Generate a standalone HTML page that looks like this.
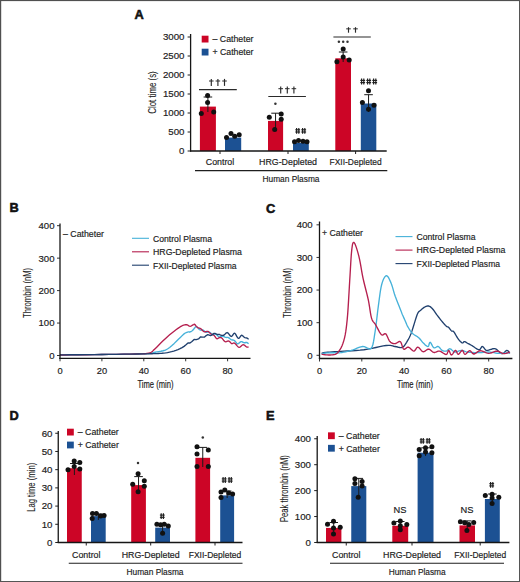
<!DOCTYPE html>
<html><head><meta charset="utf-8"><style>
html,body{margin:0;padding:0;background:#fff;}
.wrap{position:relative;width:520px;height:582px;overflow:hidden;background:#fff;}
svg{position:absolute;left:0;top:0;}
</style></head><body><div class="wrap">
<svg width="520" height="582" viewBox="0 0 520 582" font-family="Liberation Sans, sans-serif">
<rect x="0" y="0" width="520" height="582" fill="#fff"/>
<text x="134.60" y="18.60" font-size="12.8" text-anchor="start" font-weight="bold" fill="#111" stroke="#111" stroke-width="0.55" >A</text>
<rect x="199.90" y="106.60" width="16.00" height="44.40" fill="#cc0526"/>
<line x1="207.90" y1="97.00" x2="207.90" y2="112.00" stroke="#1a1a1a" stroke-width="1.0"/>
<line x1="203.60" y1="97.00" x2="212.20" y2="97.00" stroke="#1a1a1a" stroke-width="1.0"/>
<circle cx="207.60" cy="95.40" r="2.5" fill="#111"/>
<circle cx="207.60" cy="102.50" r="2.5" fill="#111"/>
<circle cx="201.30" cy="113.50" r="2.5" fill="#111"/>
<circle cx="213.70" cy="111.90" r="2.5" fill="#111"/>
<rect x="225.00" y="137.60" width="16.20" height="13.40" fill="#1c5193"/>
<circle cx="226.50" cy="137.60" r="2.5" fill="#111"/>
<circle cx="231.00" cy="133.50" r="2.5" fill="#111"/>
<circle cx="234.70" cy="136.20" r="2.5" fill="#111"/>
<circle cx="239.20" cy="134.80" r="2.5" fill="#111"/>
<rect x="268.00" y="120.90" width="15.10" height="30.10" fill="#cc0526"/>
<line x1="275.55" y1="113.20" x2="275.55" y2="130.00" stroke="#1a1a1a" stroke-width="1.0"/>
<line x1="271.25" y1="113.20" x2="279.85" y2="113.20" stroke="#1a1a1a" stroke-width="1.0"/>
<circle cx="269.30" cy="117.30" r="2.5" fill="#111"/>
<circle cx="281.20" cy="114.10" r="2.5" fill="#111"/>
<circle cx="281.20" cy="119.30" r="2.5" fill="#111"/>
<circle cx="274.70" cy="129.50" r="2.5" fill="#111"/>
<circle cx="275.40" cy="103.80" r="1.25" fill="#333"/>
<rect x="293.00" y="143.00" width="15.80" height="8.00" fill="#1c5193"/>
<circle cx="294.50" cy="141.80" r="2.5" fill="#111"/>
<circle cx="298.50" cy="140.50" r="2.5" fill="#111"/>
<circle cx="303.00" cy="141.20" r="2.5" fill="#111"/>
<circle cx="307.00" cy="141.80" r="2.5" fill="#111"/>
<line x1="296.60" y1="128.00" x2="296.60" y2="133.80" stroke="#1e1e1e" stroke-width="1.15"/>
<line x1="298.80" y1="128.00" x2="298.80" y2="133.80" stroke="#1e1e1e" stroke-width="1.15"/>
<line x1="295.30" y1="129.80" x2="300.10" y2="129.80" stroke="#1e1e1e" stroke-width="1.15"/>
<line x1="295.30" y1="132.00" x2="300.10" y2="132.00" stroke="#1e1e1e" stroke-width="1.15"/>
<line x1="302.60" y1="128.00" x2="302.60" y2="133.80" stroke="#1e1e1e" stroke-width="1.15"/>
<line x1="304.80" y1="128.00" x2="304.80" y2="133.80" stroke="#1e1e1e" stroke-width="1.15"/>
<line x1="301.30" y1="129.80" x2="306.10" y2="129.80" stroke="#1e1e1e" stroke-width="1.15"/>
<line x1="301.30" y1="132.00" x2="306.10" y2="132.00" stroke="#1e1e1e" stroke-width="1.15"/>
<rect x="335.30" y="58.30" width="15.70" height="92.70" fill="#cc0526"/>
<line x1="343.15" y1="52.00" x2="343.15" y2="62.00" stroke="#1a1a1a" stroke-width="1.0"/>
<line x1="338.85" y1="52.00" x2="347.45" y2="52.00" stroke="#1a1a1a" stroke-width="1.0"/>
<circle cx="343.20" cy="49.00" r="2.5" fill="#111"/>
<circle cx="343.20" cy="57.00" r="2.5" fill="#111"/>
<circle cx="336.90" cy="61.80" r="2.5" fill="#111"/>
<circle cx="349.20" cy="60.00" r="2.5" fill="#111"/>
<circle cx="338.90" cy="41.80" r="1.25" fill="#333"/>
<circle cx="343.20" cy="41.80" r="1.25" fill="#333"/>
<circle cx="347.50" cy="41.80" r="1.25" fill="#333"/>
<rect x="360.80" y="103.50" width="15.50" height="47.50" fill="#1c5193"/>
<line x1="368.55" y1="94.70" x2="368.55" y2="112.00" stroke="#1a1a1a" stroke-width="1.0"/>
<line x1="364.25" y1="94.70" x2="372.85" y2="94.70" stroke="#1a1a1a" stroke-width="1.0"/>
<circle cx="368.50" cy="90.80" r="2.5" fill="#111"/>
<circle cx="362.40" cy="102.40" r="2.5" fill="#111"/>
<circle cx="374.00" cy="105.20" r="2.5" fill="#111"/>
<circle cx="368.50" cy="109.30" r="2.5" fill="#111"/>
<line x1="361.60" y1="78.60" x2="361.60" y2="84.40" stroke="#1e1e1e" stroke-width="1.15"/>
<line x1="363.80" y1="78.60" x2="363.80" y2="84.40" stroke="#1e1e1e" stroke-width="1.15"/>
<line x1="360.30" y1="80.40" x2="365.10" y2="80.40" stroke="#1e1e1e" stroke-width="1.15"/>
<line x1="360.30" y1="82.60" x2="365.10" y2="82.60" stroke="#1e1e1e" stroke-width="1.15"/>
<line x1="367.60" y1="78.60" x2="367.60" y2="84.40" stroke="#1e1e1e" stroke-width="1.15"/>
<line x1="369.80" y1="78.60" x2="369.80" y2="84.40" stroke="#1e1e1e" stroke-width="1.15"/>
<line x1="366.30" y1="80.40" x2="371.10" y2="80.40" stroke="#1e1e1e" stroke-width="1.15"/>
<line x1="366.30" y1="82.60" x2="371.10" y2="82.60" stroke="#1e1e1e" stroke-width="1.15"/>
<line x1="373.60" y1="78.60" x2="373.60" y2="84.40" stroke="#1e1e1e" stroke-width="1.15"/>
<line x1="375.80" y1="78.60" x2="375.80" y2="84.40" stroke="#1e1e1e" stroke-width="1.15"/>
<line x1="372.30" y1="80.40" x2="377.10" y2="80.40" stroke="#1e1e1e" stroke-width="1.15"/>
<line x1="372.30" y1="82.60" x2="377.10" y2="82.60" stroke="#1e1e1e" stroke-width="1.15"/>
<line x1="190.60" y1="34.00" x2="190.60" y2="151.60" stroke="#161616" stroke-width="1.3"/>
<line x1="190.00" y1="151.00" x2="386.70" y2="151.00" stroke="#161616" stroke-width="1.3"/>
<line x1="187.60" y1="151.00" x2="190.60" y2="151.00" stroke="#1e1e1e" stroke-width="1.0"/>
<text x="184.50" y="154.40" font-size="9.7" text-anchor="end" font-weight="normal" fill="#1c1c1c" stroke="#1c1c1c" stroke-width="0.18" >0</text>
<line x1="187.60" y1="132.00" x2="190.60" y2="132.00" stroke="#1e1e1e" stroke-width="1.0"/>
<text x="184.50" y="135.40" font-size="9.7" text-anchor="end" font-weight="normal" fill="#1c1c1c" stroke="#1c1c1c" stroke-width="0.18" >500</text>
<line x1="187.60" y1="113.00" x2="190.60" y2="113.00" stroke="#1e1e1e" stroke-width="1.0"/>
<text x="184.50" y="116.40" font-size="9.7" text-anchor="end" font-weight="normal" fill="#1c1c1c" stroke="#1c1c1c" stroke-width="0.18" >1000</text>
<line x1="187.60" y1="94.00" x2="190.60" y2="94.00" stroke="#1e1e1e" stroke-width="1.0"/>
<text x="184.50" y="97.40" font-size="9.7" text-anchor="end" font-weight="normal" fill="#1c1c1c" stroke="#1c1c1c" stroke-width="0.18" >1500</text>
<line x1="187.60" y1="75.00" x2="190.60" y2="75.00" stroke="#1e1e1e" stroke-width="1.0"/>
<text x="184.50" y="78.40" font-size="9.7" text-anchor="end" font-weight="normal" fill="#1c1c1c" stroke="#1c1c1c" stroke-width="0.18" >2000</text>
<line x1="187.60" y1="56.00" x2="190.60" y2="56.00" stroke="#1e1e1e" stroke-width="1.0"/>
<text x="184.50" y="59.40" font-size="9.7" text-anchor="end" font-weight="normal" fill="#1c1c1c" stroke="#1c1c1c" stroke-width="0.18" >2500</text>
<line x1="187.60" y1="37.00" x2="190.60" y2="37.00" stroke="#1e1e1e" stroke-width="1.0"/>
<text x="184.50" y="40.40" font-size="9.7" text-anchor="end" font-weight="normal" fill="#1c1c1c" stroke="#1c1c1c" stroke-width="0.18" >3000</text>
<line x1="220.00" y1="151.00" x2="220.00" y2="154.00" stroke="#1e1e1e" stroke-width="1.0"/>
<text x="220.00" y="165.00" font-size="9.3" text-anchor="middle" font-weight="normal" fill="#1c1c1c" stroke="#1c1c1c" stroke-width="0.18"  textLength="28.5" lengthAdjust="spacingAndGlyphs">Control</text>
<line x1="288.00" y1="151.00" x2="288.00" y2="154.00" stroke="#1e1e1e" stroke-width="1.0"/>
<text x="288.00" y="165.00" font-size="9.3" text-anchor="middle" font-weight="normal" fill="#1c1c1c" stroke="#1c1c1c" stroke-width="0.18"  textLength="58" lengthAdjust="spacingAndGlyphs">HRG-Depleted</text>
<line x1="355.60" y1="151.00" x2="355.60" y2="154.00" stroke="#1e1e1e" stroke-width="1.0"/>
<text x="355.60" y="165.00" font-size="9.3" text-anchor="middle" font-weight="normal" fill="#1c1c1c" stroke="#1c1c1c" stroke-width="0.18"  textLength="52" lengthAdjust="spacingAndGlyphs">FXII-Depleted</text>
<line x1="195.00" y1="170.60" x2="387.30" y2="170.60" stroke="#1e1e1e" stroke-width="1.1"/>
<text x="291.00" y="182.00" font-size="9.3" text-anchor="middle" font-weight="normal" fill="#1c1c1c" stroke="#1c1c1c" stroke-width="0.18"  textLength="57" lengthAdjust="spacingAndGlyphs">Human Plasma</text>
<rect x="201.70" y="35.70" width="6.80" height="6.80" fill="#cc0526"/>
<rect x="201.70" y="48.70" width="6.80" height="6.80" fill="#1c5193"/>
<text x="212.50" y="42.40" font-size="9.4" text-anchor="start" font-weight="normal" fill="#1c1c1c" stroke="#1c1c1c" stroke-width="0.18"  textLength="41" lengthAdjust="spacingAndGlyphs">&#8211; Catheter</text>
<text x="212.50" y="55.40" font-size="9.4" text-anchor="start" font-weight="normal" fill="#1c1c1c" stroke="#1c1c1c" stroke-width="0.18"  textLength="41" lengthAdjust="spacingAndGlyphs">+ Catheter</text>
<text x="0" y="0" font-size="10.6" text-anchor="middle" fill="#1c1c1c" stroke="#1c1c1c" stroke-width="0.1" textLength="42.5" lengthAdjust="spacingAndGlyphs" transform="translate(155.60,92.50) rotate(-90)">Clot time (s)</text>
<line x1="199.00" y1="89.60" x2="236.80" y2="89.60" stroke="#2a2a2a" stroke-width="1.2"/>
<line x1="211.30" y1="78.90" x2="211.30" y2="85.90" stroke="#2a2a2a" stroke-width="1.15"/>
<line x1="209.00" y1="81.00" x2="213.60" y2="81.00" stroke="#2a2a2a" stroke-width="1.0"/>
<line x1="217.90" y1="78.90" x2="217.90" y2="85.90" stroke="#2a2a2a" stroke-width="1.15"/>
<line x1="215.60" y1="81.00" x2="220.20" y2="81.00" stroke="#2a2a2a" stroke-width="1.0"/>
<line x1="224.50" y1="78.90" x2="224.50" y2="85.90" stroke="#2a2a2a" stroke-width="1.15"/>
<line x1="222.20" y1="81.00" x2="226.80" y2="81.00" stroke="#2a2a2a" stroke-width="1.0"/>
<line x1="268.30" y1="96.50" x2="305.90" y2="96.50" stroke="#2a2a2a" stroke-width="1.2"/>
<line x1="280.70" y1="86.60" x2="280.70" y2="93.60" stroke="#2a2a2a" stroke-width="1.15"/>
<line x1="278.40" y1="88.70" x2="283.00" y2="88.70" stroke="#2a2a2a" stroke-width="1.0"/>
<line x1="287.30" y1="86.60" x2="287.30" y2="93.60" stroke="#2a2a2a" stroke-width="1.15"/>
<line x1="285.00" y1="88.70" x2="289.60" y2="88.70" stroke="#2a2a2a" stroke-width="1.0"/>
<line x1="293.90" y1="86.60" x2="293.90" y2="93.60" stroke="#2a2a2a" stroke-width="1.15"/>
<line x1="291.60" y1="88.70" x2="296.20" y2="88.70" stroke="#2a2a2a" stroke-width="1.0"/>
<line x1="333.40" y1="37.00" x2="370.80" y2="37.00" stroke="#2a2a2a" stroke-width="1.2"/>
<line x1="348.50" y1="27.20" x2="348.50" y2="32.70" stroke="#2a2a2a" stroke-width="1.15"/>
<line x1="346.20" y1="28.85" x2="350.80" y2="28.85" stroke="#2a2a2a" stroke-width="1.0"/>
<line x1="355.50" y1="27.20" x2="355.50" y2="32.70" stroke="#2a2a2a" stroke-width="1.15"/>
<line x1="353.20" y1="28.85" x2="357.80" y2="28.85" stroke="#2a2a2a" stroke-width="1.0"/>
<text x="9.50" y="420.30" font-size="12.8" text-anchor="start" font-weight="bold" fill="#111" stroke="#111" stroke-width="0.55" >D</text>
<rect x="67.00" y="468.20" width="14.75" height="74.30" fill="#cc0526"/>
<line x1="74.38" y1="463.50" x2="74.38" y2="475.00" stroke="#1a1a1a" stroke-width="1.0"/>
<line x1="70.08" y1="463.50" x2="78.67" y2="463.50" stroke="#1a1a1a" stroke-width="1.0"/>
<circle cx="74.20" cy="460.90" r="2.5" fill="#111"/>
<circle cx="79.80" cy="462.40" r="2.5" fill="#111"/>
<circle cx="74.20" cy="466.60" r="2.5" fill="#111"/>
<circle cx="68.00" cy="469.70" r="2.5" fill="#111"/>
<circle cx="79.80" cy="468.90" r="2.5" fill="#111"/>
<rect x="91.00" y="516.10" width="14.70" height="26.40" fill="#1c5193"/>
<line x1="98.35" y1="514.00" x2="98.35" y2="520.00" stroke="#1a1a1a" stroke-width="1.0"/>
<line x1="94.05" y1="514.00" x2="102.65" y2="514.00" stroke="#1a1a1a" stroke-width="1.0"/>
<circle cx="92.50" cy="513.50" r="2.5" fill="#111"/>
<circle cx="96.40" cy="513.50" r="2.5" fill="#111"/>
<circle cx="100.60" cy="516.10" r="2.5" fill="#111"/>
<circle cx="104.10" cy="515.40" r="2.5" fill="#111"/>
<circle cx="92.20" cy="518.50" r="2.5" fill="#111"/>
<rect x="131.20" y="485.10" width="14.70" height="57.40" fill="#cc0526"/>
<line x1="138.55" y1="476.60" x2="138.55" y2="491.00" stroke="#1a1a1a" stroke-width="1.0"/>
<line x1="134.25" y1="476.60" x2="142.85" y2="476.60" stroke="#1a1a1a" stroke-width="1.0"/>
<circle cx="138.10" cy="473.70" r="2.5" fill="#111"/>
<circle cx="144.30" cy="480.70" r="2.5" fill="#111"/>
<circle cx="132.70" cy="484.30" r="2.5" fill="#111"/>
<circle cx="144.30" cy="486.30" r="2.5" fill="#111"/>
<circle cx="138.10" cy="491.70" r="2.5" fill="#111"/>
<circle cx="138.00" cy="463.00" r="1.25" fill="#333"/>
<rect x="155.20" y="527.60" width="14.80" height="14.90" fill="#1c5193"/>
<line x1="162.60" y1="524.00" x2="162.60" y2="533.00" stroke="#1a1a1a" stroke-width="1.0"/>
<line x1="158.30" y1="524.00" x2="166.90" y2="524.00" stroke="#1a1a1a" stroke-width="1.0"/>
<circle cx="156.90" cy="524.30" r="2.5" fill="#111"/>
<circle cx="160.60" cy="524.80" r="2.5" fill="#111"/>
<circle cx="164.20" cy="524.30" r="2.5" fill="#111"/>
<circle cx="168.30" cy="526.00" r="2.5" fill="#111"/>
<circle cx="162.60" cy="533.30" r="2.5" fill="#111"/>
<line x1="161.20" y1="513.30" x2="161.20" y2="519.10" stroke="#1e1e1e" stroke-width="1.15"/>
<line x1="163.40" y1="513.30" x2="163.40" y2="519.10" stroke="#1e1e1e" stroke-width="1.15"/>
<line x1="159.90" y1="515.10" x2="164.70" y2="515.10" stroke="#1e1e1e" stroke-width="1.15"/>
<line x1="159.90" y1="517.30" x2="164.70" y2="517.30" stroke="#1e1e1e" stroke-width="1.15"/>
<rect x="195.40" y="457.80" width="14.70" height="84.70" fill="#cc0526"/>
<line x1="202.75" y1="447.40" x2="202.75" y2="467.00" stroke="#1a1a1a" stroke-width="1.0"/>
<line x1="198.45" y1="447.40" x2="207.05" y2="447.40" stroke="#1a1a1a" stroke-width="1.0"/>
<circle cx="197.00" cy="446.70" r="2.5" fill="#111"/>
<circle cx="208.30" cy="450.10" r="2.5" fill="#111"/>
<circle cx="197.00" cy="454.10" r="2.5" fill="#111"/>
<circle cx="197.00" cy="466.50" r="2.5" fill="#111"/>
<circle cx="208.30" cy="466.50" r="2.5" fill="#111"/>
<circle cx="202.80" cy="437.40" r="1.25" fill="#333"/>
<rect x="220.20" y="495.40" width="13.90" height="47.10" fill="#1c5193"/>
<line x1="227.15" y1="491.00" x2="227.15" y2="498.00" stroke="#1a1a1a" stroke-width="1.0"/>
<line x1="222.85" y1="491.00" x2="231.45" y2="491.00" stroke="#1a1a1a" stroke-width="1.0"/>
<circle cx="221.00" cy="491.90" r="2.5" fill="#111"/>
<circle cx="224.80" cy="490.00" r="2.5" fill="#111"/>
<circle cx="228.70" cy="493.10" r="2.5" fill="#111"/>
<circle cx="232.60" cy="493.90" r="2.5" fill="#111"/>
<circle cx="221.00" cy="497.40" r="2.5" fill="#111"/>
<line x1="223.10" y1="477.10" x2="223.10" y2="482.90" stroke="#1e1e1e" stroke-width="1.15"/>
<line x1="225.30" y1="477.10" x2="225.30" y2="482.90" stroke="#1e1e1e" stroke-width="1.15"/>
<line x1="221.80" y1="478.90" x2="226.60" y2="478.90" stroke="#1e1e1e" stroke-width="1.15"/>
<line x1="221.80" y1="481.10" x2="226.60" y2="481.10" stroke="#1e1e1e" stroke-width="1.15"/>
<line x1="229.10" y1="477.10" x2="229.10" y2="482.90" stroke="#1e1e1e" stroke-width="1.15"/>
<line x1="231.30" y1="477.10" x2="231.30" y2="482.90" stroke="#1e1e1e" stroke-width="1.15"/>
<line x1="227.80" y1="478.90" x2="232.60" y2="478.90" stroke="#1e1e1e" stroke-width="1.15"/>
<line x1="227.80" y1="481.10" x2="232.60" y2="481.10" stroke="#1e1e1e" stroke-width="1.15"/>
<line x1="58.25" y1="431.00" x2="58.25" y2="543.10" stroke="#161616" stroke-width="1.3"/>
<line x1="57.65" y1="542.50" x2="242.50" y2="542.50" stroke="#161616" stroke-width="1.3"/>
<line x1="55.25" y1="542.50" x2="58.25" y2="542.50" stroke="#1e1e1e" stroke-width="1.0"/>
<text x="52.50" y="545.90" font-size="9.7" text-anchor="end" font-weight="normal" fill="#1c1c1c" stroke="#1c1c1c" stroke-width="0.18" >0</text>
<line x1="55.25" y1="524.29" x2="58.25" y2="524.29" stroke="#1e1e1e" stroke-width="1.0"/>
<text x="52.50" y="527.69" font-size="9.7" text-anchor="end" font-weight="normal" fill="#1c1c1c" stroke="#1c1c1c" stroke-width="0.18" >10</text>
<line x1="55.25" y1="506.08" x2="58.25" y2="506.08" stroke="#1e1e1e" stroke-width="1.0"/>
<text x="52.50" y="509.48" font-size="9.7" text-anchor="end" font-weight="normal" fill="#1c1c1c" stroke="#1c1c1c" stroke-width="0.18" >20</text>
<line x1="55.25" y1="487.88" x2="58.25" y2="487.88" stroke="#1e1e1e" stroke-width="1.0"/>
<text x="52.50" y="491.27" font-size="9.7" text-anchor="end" font-weight="normal" fill="#1c1c1c" stroke="#1c1c1c" stroke-width="0.18" >30</text>
<line x1="55.25" y1="469.67" x2="58.25" y2="469.67" stroke="#1e1e1e" stroke-width="1.0"/>
<text x="52.50" y="473.07" font-size="9.7" text-anchor="end" font-weight="normal" fill="#1c1c1c" stroke="#1c1c1c" stroke-width="0.18" >40</text>
<line x1="55.25" y1="451.46" x2="58.25" y2="451.46" stroke="#1e1e1e" stroke-width="1.0"/>
<text x="52.50" y="454.86" font-size="9.7" text-anchor="end" font-weight="normal" fill="#1c1c1c" stroke="#1c1c1c" stroke-width="0.18" >50</text>
<line x1="55.25" y1="433.25" x2="58.25" y2="433.25" stroke="#1e1e1e" stroke-width="1.0"/>
<text x="52.50" y="436.65" font-size="9.7" text-anchor="end" font-weight="normal" fill="#1c1c1c" stroke="#1c1c1c" stroke-width="0.18" >60</text>
<line x1="86.25" y1="542.50" x2="86.25" y2="545.50" stroke="#1e1e1e" stroke-width="1.0"/>
<text x="86.25" y="557.70" font-size="9.3" text-anchor="middle" font-weight="normal" fill="#1c1c1c" stroke="#1c1c1c" stroke-width="0.18"  textLength="28.5" lengthAdjust="spacingAndGlyphs">Control</text>
<line x1="150.70" y1="542.50" x2="150.70" y2="545.50" stroke="#1e1e1e" stroke-width="1.0"/>
<text x="150.70" y="557.70" font-size="9.3" text-anchor="middle" font-weight="normal" fill="#1c1c1c" stroke="#1c1c1c" stroke-width="0.18"  textLength="58" lengthAdjust="spacingAndGlyphs">HRG-Depleted</text>
<line x1="215.00" y1="542.50" x2="215.00" y2="545.50" stroke="#1e1e1e" stroke-width="1.0"/>
<text x="215.00" y="557.70" font-size="9.3" text-anchor="middle" font-weight="normal" fill="#1c1c1c" stroke="#1c1c1c" stroke-width="0.18"  textLength="52.5" lengthAdjust="spacingAndGlyphs">FXII-Depleted</text>
<line x1="68.75" y1="563.20" x2="242.50" y2="563.20" stroke="#1e1e1e" stroke-width="1.1"/>
<text x="155.00" y="574.50" font-size="9.3" text-anchor="middle" font-weight="normal" fill="#1c1c1c" stroke="#1c1c1c" stroke-width="0.18"  textLength="57" lengthAdjust="spacingAndGlyphs">Human Plasma</text>
<rect x="67.00" y="428.70" width="6.80" height="6.80" fill="#cc0526"/>
<rect x="67.00" y="441.60" width="6.80" height="6.80" fill="#1c5193"/>
<text x="77.80" y="435.40" font-size="9.4" text-anchor="start" font-weight="normal" fill="#1c1c1c" stroke="#1c1c1c" stroke-width="0.18"  textLength="41" lengthAdjust="spacingAndGlyphs">&#8211; Catheter</text>
<text x="77.80" y="448.30" font-size="9.4" text-anchor="start" font-weight="normal" fill="#1c1c1c" stroke="#1c1c1c" stroke-width="0.18"  textLength="41" lengthAdjust="spacingAndGlyphs">+ Catheter</text>
<text x="0" y="0" font-size="10.6" text-anchor="middle" fill="#1c1c1c" stroke="#1c1c1c" stroke-width="0.1" textLength="49" lengthAdjust="spacingAndGlyphs" transform="translate(34.60,487.30) rotate(-90)">Lag time (min)</text>
<text x="266.00" y="420.20" font-size="12.8" text-anchor="start" font-weight="bold" fill="#111" stroke="#111" stroke-width="0.55" >E</text>
<rect x="326.00" y="527.90" width="15.40" height="14.60" fill="#cc0526"/>
<line x1="333.70" y1="522.50" x2="333.70" y2="534.00" stroke="#1a1a1a" stroke-width="1.0"/>
<line x1="329.40" y1="522.50" x2="338.00" y2="522.50" stroke="#1a1a1a" stroke-width="1.0"/>
<circle cx="327.50" cy="524.30" r="2.5" fill="#111"/>
<circle cx="333.50" cy="521.30" r="2.5" fill="#111"/>
<circle cx="333.50" cy="527.90" r="2.5" fill="#111"/>
<circle cx="340.20" cy="527.30" r="2.5" fill="#111"/>
<circle cx="333.50" cy="534.10" r="2.5" fill="#111"/>
<rect x="351.25" y="486.10" width="15.05" height="56.40" fill="#1c5193"/>
<line x1="358.77" y1="478.40" x2="358.77" y2="497.00" stroke="#1a1a1a" stroke-width="1.0"/>
<line x1="354.47" y1="478.40" x2="363.07" y2="478.40" stroke="#1a1a1a" stroke-width="1.0"/>
<circle cx="354.90" cy="478.80" r="2.5" fill="#111"/>
<circle cx="354.90" cy="483.40" r="2.5" fill="#111"/>
<circle cx="362.10" cy="481.60" r="2.5" fill="#111"/>
<circle cx="362.10" cy="486.10" r="2.5" fill="#111"/>
<circle cx="358.20" cy="497.20" r="2.5" fill="#111"/>
<rect x="392.30" y="525.80" width="15.90" height="16.70" fill="#cc0526"/>
<line x1="400.25" y1="521.50" x2="400.25" y2="530.00" stroke="#1a1a1a" stroke-width="1.0"/>
<line x1="395.95" y1="521.50" x2="404.55" y2="521.50" stroke="#1a1a1a" stroke-width="1.0"/>
<circle cx="393.90" cy="522.90" r="2.5" fill="#111"/>
<circle cx="400.30" cy="520.90" r="2.5" fill="#111"/>
<circle cx="406.80" cy="524.50" r="2.5" fill="#111"/>
<circle cx="400.30" cy="525.80" r="2.5" fill="#111"/>
<circle cx="400.30" cy="529.80" r="2.5" fill="#111"/>
<text x="399.90" y="513.30" font-size="9.3" text-anchor="middle" font-weight="normal" fill="#1c1c1c" stroke="#1c1c1c" stroke-width="0.18" >NS</text>
<rect x="417.60" y="452.70" width="15.90" height="89.80" fill="#1c5193"/>
<line x1="425.55" y1="447.80" x2="425.55" y2="456.00" stroke="#1a1a1a" stroke-width="1.0"/>
<line x1="421.25" y1="447.80" x2="429.85" y2="447.80" stroke="#1a1a1a" stroke-width="1.0"/>
<circle cx="419.20" cy="449.40" r="2.5" fill="#111"/>
<circle cx="425.50" cy="447.80" r="2.5" fill="#111"/>
<circle cx="431.90" cy="446.80" r="2.5" fill="#111"/>
<circle cx="431.90" cy="452.70" r="2.5" fill="#111"/>
<circle cx="425.50" cy="452.10" r="2.5" fill="#111"/>
<circle cx="419.20" cy="455.70" r="2.5" fill="#111"/>
<line x1="421.10" y1="438.00" x2="421.10" y2="443.80" stroke="#1e1e1e" stroke-width="1.15"/>
<line x1="423.30" y1="438.00" x2="423.30" y2="443.80" stroke="#1e1e1e" stroke-width="1.15"/>
<line x1="419.80" y1="439.80" x2="424.60" y2="439.80" stroke="#1e1e1e" stroke-width="1.15"/>
<line x1="419.80" y1="442.00" x2="424.60" y2="442.00" stroke="#1e1e1e" stroke-width="1.15"/>
<line x1="427.10" y1="438.00" x2="427.10" y2="443.80" stroke="#1e1e1e" stroke-width="1.15"/>
<line x1="429.30" y1="438.00" x2="429.30" y2="443.80" stroke="#1e1e1e" stroke-width="1.15"/>
<line x1="425.80" y1="439.80" x2="430.60" y2="439.80" stroke="#1e1e1e" stroke-width="1.15"/>
<line x1="425.80" y1="442.00" x2="430.60" y2="442.00" stroke="#1e1e1e" stroke-width="1.15"/>
<rect x="459.50" y="525.40" width="15.50" height="17.10" fill="#cc0526"/>
<line x1="467.25" y1="520.90" x2="467.25" y2="531.00" stroke="#1a1a1a" stroke-width="1.0"/>
<line x1="462.95" y1="520.90" x2="471.55" y2="520.90" stroke="#1a1a1a" stroke-width="1.0"/>
<circle cx="460.40" cy="521.80" r="2.5" fill="#111"/>
<circle cx="464.70" cy="522.80" r="2.5" fill="#111"/>
<circle cx="468.90" cy="524.40" r="2.5" fill="#111"/>
<circle cx="473.70" cy="522.60" r="2.5" fill="#111"/>
<circle cx="466.90" cy="530.60" r="2.5" fill="#111"/>
<text x="466.90" y="513.30" font-size="9.3" text-anchor="middle" font-weight="normal" fill="#1c1c1c" stroke="#1c1c1c" stroke-width="0.18" >NS</text>
<rect x="484.90" y="499.00" width="14.90" height="43.50" fill="#1c5193"/>
<line x1="492.35" y1="494.00" x2="492.35" y2="503.00" stroke="#1a1a1a" stroke-width="1.0"/>
<line x1="488.05" y1="494.00" x2="496.65" y2="494.00" stroke="#1a1a1a" stroke-width="1.0"/>
<circle cx="485.30" cy="495.50" r="2.5" fill="#111"/>
<circle cx="492.10" cy="494.20" r="2.5" fill="#111"/>
<circle cx="498.80" cy="497.30" r="2.5" fill="#111"/>
<circle cx="492.10" cy="498.10" r="2.5" fill="#111"/>
<circle cx="492.10" cy="503.50" r="2.5" fill="#111"/>
<line x1="490.60" y1="481.90" x2="490.60" y2="487.70" stroke="#1e1e1e" stroke-width="1.15"/>
<line x1="492.80" y1="481.90" x2="492.80" y2="487.70" stroke="#1e1e1e" stroke-width="1.15"/>
<line x1="489.30" y1="483.70" x2="494.10" y2="483.70" stroke="#1e1e1e" stroke-width="1.15"/>
<line x1="489.30" y1="485.90" x2="494.10" y2="485.90" stroke="#1e1e1e" stroke-width="1.15"/>
<line x1="317.20" y1="436.00" x2="317.20" y2="543.10" stroke="#161616" stroke-width="1.3"/>
<line x1="316.60" y1="542.50" x2="509.40" y2="542.50" stroke="#161616" stroke-width="1.3"/>
<line x1="314.20" y1="542.50" x2="317.20" y2="542.50" stroke="#1e1e1e" stroke-width="1.0"/>
<text x="311.00" y="545.90" font-size="9.7" text-anchor="end" font-weight="normal" fill="#1c1c1c" stroke="#1c1c1c" stroke-width="0.18" >0</text>
<line x1="314.20" y1="516.56" x2="317.20" y2="516.56" stroke="#1e1e1e" stroke-width="1.0"/>
<text x="311.00" y="519.96" font-size="9.7" text-anchor="end" font-weight="normal" fill="#1c1c1c" stroke="#1c1c1c" stroke-width="0.18" >100</text>
<line x1="314.20" y1="490.62" x2="317.20" y2="490.62" stroke="#1e1e1e" stroke-width="1.0"/>
<text x="311.00" y="494.02" font-size="9.7" text-anchor="end" font-weight="normal" fill="#1c1c1c" stroke="#1c1c1c" stroke-width="0.18" >200</text>
<line x1="314.20" y1="464.69" x2="317.20" y2="464.69" stroke="#1e1e1e" stroke-width="1.0"/>
<text x="311.00" y="468.09" font-size="9.7" text-anchor="end" font-weight="normal" fill="#1c1c1c" stroke="#1c1c1c" stroke-width="0.18" >300</text>
<line x1="314.20" y1="438.75" x2="317.20" y2="438.75" stroke="#1e1e1e" stroke-width="1.0"/>
<text x="311.00" y="442.15" font-size="9.7" text-anchor="end" font-weight="normal" fill="#1c1c1c" stroke="#1c1c1c" stroke-width="0.18" >400</text>
<line x1="346.25" y1="542.50" x2="346.25" y2="545.50" stroke="#1e1e1e" stroke-width="1.0"/>
<text x="346.25" y="557.70" font-size="9.3" text-anchor="middle" font-weight="normal" fill="#1c1c1c" stroke="#1c1c1c" stroke-width="0.18"  textLength="28.5" lengthAdjust="spacingAndGlyphs">Control</text>
<line x1="412.00" y1="542.50" x2="412.00" y2="545.50" stroke="#1e1e1e" stroke-width="1.0"/>
<text x="412.00" y="557.70" font-size="9.3" text-anchor="middle" font-weight="normal" fill="#1c1c1c" stroke="#1c1c1c" stroke-width="0.18"  textLength="58" lengthAdjust="spacingAndGlyphs">HRG-Depleted</text>
<line x1="480.20" y1="542.50" x2="480.20" y2="545.50" stroke="#1e1e1e" stroke-width="1.0"/>
<text x="480.20" y="557.70" font-size="9.3" text-anchor="middle" font-weight="normal" fill="#1c1c1c" stroke="#1c1c1c" stroke-width="0.18"  textLength="52" lengthAdjust="spacingAndGlyphs">FXII-Depleted</text>
<line x1="330.00" y1="563.30" x2="504.00" y2="563.30" stroke="#1e1e1e" stroke-width="1.1"/>
<text x="417.20" y="574.50" font-size="9.3" text-anchor="middle" font-weight="normal" fill="#1c1c1c" stroke="#1c1c1c" stroke-width="0.18"  textLength="57" lengthAdjust="spacingAndGlyphs">Human Plasma</text>
<rect x="328.00" y="432.35" width="6.80" height="6.80" fill="#cc0526"/>
<rect x="328.00" y="444.85" width="6.80" height="6.80" fill="#1c5193"/>
<text x="338.80" y="439.05" font-size="9.4" text-anchor="start" font-weight="normal" fill="#1c1c1c" stroke="#1c1c1c" stroke-width="0.18"  textLength="41" lengthAdjust="spacingAndGlyphs">&#8211; Catheter</text>
<text x="338.80" y="451.55" font-size="9.4" text-anchor="start" font-weight="normal" fill="#1c1c1c" stroke="#1c1c1c" stroke-width="0.18"  textLength="41" lengthAdjust="spacingAndGlyphs">+ Catheter</text>
<text x="0" y="0" font-size="10.2" text-anchor="middle" fill="#1c1c1c" stroke="#1c1c1c" stroke-width="0.1" textLength="67" lengthAdjust="spacingAndGlyphs" transform="translate(288.40,488.60) rotate(-90)">Peak thrombin (nM)</text>
<text x="9.50" y="212.20" font-size="12.8" text-anchor="start" font-weight="bold" fill="#111" stroke="#111" stroke-width="0.55" >B</text>
<path d="M60.00,355.01 L64.61,354.96 L71.02,354.89 L78.59,354.81 L86.69,354.72 L94.67,354.62 L101.90,354.53 L108.77,354.42 L115.87,354.31 L122.85,354.19 L129.37,354.08 L135.07,353.97 L139.61,353.88 L142.72,353.82 L144.62,353.78 L145.71,353.76 L146.38,353.72 L147.01,353.66 L147.99,353.55 L149.19,353.42 L150.26,353.26 L151.30,353.09 L152.40,352.87 L153.64,352.60 L155.11,352.25 L156.87,351.92 L158.84,351.62 L160.95,351.26 L163.14,350.76 L165.34,350.04 L167.47,349.01 L169.65,347.50 L171.94,345.56 L174.24,343.39 L176.44,341.21 L178.41,339.23 L180.04,337.65 L181.28,336.51 L182.19,335.62 L182.87,334.93 L183.44,334.38 L184.00,333.90 L184.65,333.43 L185.40,332.99 L186.16,332.63 L186.90,332.34 L187.62,332.11 L188.27,331.94 L188.84,331.81 L189.29,331.81 L189.62,331.97 L189.89,332.18 L190.16,331.72 L190.49,331.71 L190.94,331.56 L191.51,331.23 L192.18,330.75 L192.90,330.12 L193.65,329.25 L194.40,328.22 L195.13,327.30 L195.84,326.76 L196.56,326.69 L197.29,327.12 L198.00,327.91 L198.68,328.78 L199.32,329.44 L199.88,329.81 L200.36,330.01 L200.82,330.09 L201.30,330.08 L201.83,330.01 L202.46,329.97 L203.22,330.15 L204.07,330.72 L204.97,331.56 L205.91,332.22 L206.82,332.38 L207.70,332.17 L208.54,331.95 L209.38,332.05 L210.21,332.58 L211.02,333.35 L211.79,334.04 L212.52,334.41 L213.16,334.44 L213.73,334.27 L214.27,334.05 L214.81,333.88 L215.40,333.87 L216.08,334.16 L216.88,334.88 L217.78,335.87 L218.72,336.62 L219.66,336.81 L220.54,336.63 L221.32,336.46 L221.96,336.39 L222.52,336.40 L223.02,336.44 L223.49,336.53 L223.96,336.68 L224.46,336.90 L224.97,337.15 L225.47,337.33 L225.96,337.43 L226.47,337.46 L227.02,337.44 L227.60,337.43 L228.22,337.53 L228.86,337.84 L229.52,338.34 L230.23,338.97 L230.98,339.53 L231.79,339.85 L232.68,339.97 L233.65,340.12 L234.67,340.75 L235.70,341.95 L236.71,343.20 L237.66,343.82 L238.53,343.60 L239.36,342.88 L240.17,342.10 L240.98,341.62 L241.81,341.65 L242.68,342.11 L243.68,342.67 L244.79,342.75 L245.93,342.47 L247.00,342.54 L247.90,343.15 L248.55,343.79" fill="none" stroke="#45b1d9" stroke-width="1.35" stroke-linejoin="round"/>
<path d="M60.00,355.01 L64.61,354.96 L71.02,354.89 L78.59,354.81 L86.69,354.72 L94.67,354.62 L101.90,354.53 L108.79,354.42 L115.94,354.31 L122.98,354.19 L129.52,354.08 L135.19,353.97 L139.61,353.88 L142.49,353.82 L144.07,353.78 L144.78,353.76 L145.04,353.72 L145.27,353.66 L145.90,353.55 L146.84,353.42 L147.76,353.28 L148.66,353.11 L149.52,352.89 L150.34,352.61 L151.13,352.25 L151.77,351.89 L152.24,351.55 L152.68,351.14 L153.21,350.58 L153.98,349.79 L155.11,348.69 L156.69,347.15 L158.60,345.22 L160.76,343.07 L163.03,340.83 L165.30,338.65 L167.47,336.68 L169.63,334.84 L171.88,332.99 L174.14,331.20 L176.31,329.55 L178.31,328.11 L180.04,326.94 L181.48,326.09 L182.70,325.49 L183.74,325.10 L184.65,324.86 L185.50,324.74 L186.33,324.67 L187.10,324.76 L187.75,325.05 L188.33,325.44 L188.89,325.85 L189.46,326.17 L190.10,326.30 L190.78,326.14 L191.48,325.78 L192.19,325.32 L192.93,324.90 L193.70,324.64 L194.50,324.11 L195.38,325.07 L196.34,326.35 L197.33,327.38 L198.29,327.90 L199.18,328.09 L199.95,328.26 L200.52,328.51 L200.93,328.82 L201.27,329.13 L201.61,329.47 L202.05,329.94 L202.67,330.64 L203.51,331.46 L204.53,331.94 L205.64,331.78 L206.77,331.35 L207.83,331.34 L208.75,331.89 L209.51,332.63 L210.17,333.30 L210.77,333.80 L211.34,334.15 L211.91,334.38 L212.52,334.53 L213.15,334.76 L213.80,335.19 L214.44,335.83 L215.08,336.65 L215.69,337.54 L216.29,338.31 L216.83,338.72 L217.33,338.75 L217.82,338.53 L218.31,338.19 L218.84,337.82 L219.43,337.57 L220.10,337.48 L220.83,337.56 L221.59,337.91 L222.36,338.62 L223.12,339.59 L223.83,340.55 L224.49,341.26 L225.13,341.69 L225.75,341.81 L226.37,341.67 L226.98,341.39 L227.60,341.10 L228.24,340.97 L228.90,341.09 L229.56,341.50 L230.21,342.15 L230.82,342.86 L231.37,343.44 L231.85,343.71 L232.26,343.69 L232.63,343.51 L233.00,343.27 L233.41,343.06 L233.89,342.97 L234.43,343.09 L235.00,343.46 L235.61,344.02 L236.26,344.75 L236.94,345.60 L237.66,346.42 L238.41,347.02 L239.21,347.29 L240.04,347.08 L240.90,346.40 L241.78,345.49 L242.68,344.81 L243.68,344.73 L244.79,345.42 L245.93,346.48 L247.00,347.12 L247.90,347.14 L248.55,346.91" fill="none" stroke="#b51f4e" stroke-width="1.35" stroke-linejoin="round"/>
<path d="M60.00,354.85 L64.56,354.82 L70.86,354.78 L78.33,354.73 L86.38,354.67 L94.43,354.60 L101.90,354.53 L109.22,354.43 L116.95,354.32 L124.68,354.20 L132.01,354.08 L138.51,353.97 L143.80,353.88 L147.61,353.81 L150.22,353.77 L152.01,353.74 L153.37,353.70 L154.70,353.64 L156.37,353.55 L158.29,353.46 L160.13,353.38 L161.92,353.29 L163.72,353.14 L165.56,352.92 L167.47,352.58 L169.49,352.14 L171.58,351.63 L173.71,351.04 L175.85,350.36 L177.97,349.57 L180.04,348.69 L182.06,347.62 L184.05,346.37 L186.01,344.78 L187.98,342.97 L189.97,342.97 L191.99,341.53 L194.09,339.42 L196.28,339.68 L198.49,338.89 L200.65,336.86 L202.70,337.14 L204.56,337.10 L206.23,335.54 L207.78,334.66 L209.20,335.15 L210.53,335.63 L211.77,335.15 L212.94,334.10 L214.01,333.39 L214.99,333.39 L215.88,333.83 L216.70,334.28 L217.46,334.49 L218.17,334.43 L218.80,334.34 L219.31,334.43 L219.76,334.65 L220.21,334.90 L220.71,335.12 L221.32,335.28 L222.04,335.39 L222.85,335.45 L223.71,335.26 L224.60,334.63 L225.48,333.66 L226.34,332.80 L227.20,332.52 L228.07,332.99 L228.95,334.08 L229.80,335.33 L230.62,336.22 L231.37,336.45 L232.04,336.04 L232.65,335.26 L233.22,334.39 L233.77,333.66 L234.33,333.27 L234.93,333.41 L235.57,334.18 L236.24,335.39 L236.91,336.69 L237.59,337.74 L238.26,338.31 L238.91,338.29 L239.53,337.73 L240.11,336.90 L240.68,336.05 L241.28,335.43 L241.94,335.26 L242.68,335.71 L243.61,336.70 L244.70,337.56 L245.85,337.81 L246.95,337.98 L247.89,338.59 L248.55,339.35" fill="none" stroke="#20406e" stroke-width="1.35" stroke-linejoin="round"/>
<line x1="60.00" y1="223.50" x2="60.00" y2="358.90" stroke="#161616" stroke-width="1.3"/>
<line x1="59.40" y1="358.30" x2="250.50" y2="358.30" stroke="#161616" stroke-width="1.3"/>
<line x1="57.00" y1="355.50" x2="60.00" y2="355.50" stroke="#1e1e1e" stroke-width="0.9"/>
<text x="54.50" y="358.90" font-size="9.6" text-anchor="end" font-weight="normal" fill="#1c1c1c" stroke="#1c1c1c" stroke-width="0.18" >0</text>
<line x1="57.00" y1="323.05" x2="60.00" y2="323.05" stroke="#1e1e1e" stroke-width="0.9"/>
<text x="54.50" y="326.45" font-size="9.6" text-anchor="end" font-weight="normal" fill="#1c1c1c" stroke="#1c1c1c" stroke-width="0.18" >100</text>
<line x1="57.00" y1="290.60" x2="60.00" y2="290.60" stroke="#1e1e1e" stroke-width="0.9"/>
<text x="54.50" y="294.00" font-size="9.6" text-anchor="end" font-weight="normal" fill="#1c1c1c" stroke="#1c1c1c" stroke-width="0.18" >200</text>
<line x1="57.00" y1="258.15" x2="60.00" y2="258.15" stroke="#1e1e1e" stroke-width="0.9"/>
<text x="54.50" y="261.55" font-size="9.6" text-anchor="end" font-weight="normal" fill="#1c1c1c" stroke="#1c1c1c" stroke-width="0.18" >300</text>
<line x1="57.00" y1="225.70" x2="60.00" y2="225.70" stroke="#1e1e1e" stroke-width="0.9"/>
<text x="54.50" y="229.10" font-size="9.6" text-anchor="end" font-weight="normal" fill="#1c1c1c" stroke="#1c1c1c" stroke-width="0.18" >400</text>
<line x1="60.00" y1="358.30" x2="60.00" y2="361.30" stroke="#1e1e1e" stroke-width="0.9"/>
<text x="60.00" y="373.80" font-size="9.3" text-anchor="middle" font-weight="normal" fill="#1c1c1c" stroke="#1c1c1c" stroke-width="0.18" >0</text>
<line x1="101.90" y1="358.30" x2="101.90" y2="361.30" stroke="#1e1e1e" stroke-width="0.9"/>
<text x="101.90" y="373.80" font-size="9.3" text-anchor="middle" font-weight="normal" fill="#1c1c1c" stroke="#1c1c1c" stroke-width="0.18" >20</text>
<line x1="143.80" y1="358.30" x2="143.80" y2="361.30" stroke="#1e1e1e" stroke-width="0.9"/>
<text x="143.80" y="373.80" font-size="9.3" text-anchor="middle" font-weight="normal" fill="#1c1c1c" stroke="#1c1c1c" stroke-width="0.18" >40</text>
<line x1="185.70" y1="358.30" x2="185.70" y2="361.30" stroke="#1e1e1e" stroke-width="0.9"/>
<text x="185.70" y="373.80" font-size="9.3" text-anchor="middle" font-weight="normal" fill="#1c1c1c" stroke="#1c1c1c" stroke-width="0.18" >60</text>
<line x1="227.60" y1="358.30" x2="227.60" y2="361.30" stroke="#1e1e1e" stroke-width="0.9"/>
<text x="227.60" y="373.80" font-size="9.3" text-anchor="middle" font-weight="normal" fill="#1c1c1c" stroke="#1c1c1c" stroke-width="0.18" >80</text>
<text x="0" y="0" font-size="10.6" text-anchor="middle" fill="#1c1c1c" stroke="#1c1c1c" stroke-width="0.1" textLength="50" lengthAdjust="spacingAndGlyphs" transform="translate(31.00,292.90) rotate(-90)">Thrombin (nM)</text>
<text x="155.50" y="388.00" font-size="10.4" text-anchor="middle" font-weight="normal" fill="#1c1c1c" stroke="#1c1c1c" stroke-width="0.18" textLength="36" lengthAdjust="spacingAndGlyphs">Time (min)</text>
<text x="63.00" y="237.20" font-size="9.4" text-anchor="start" font-weight="normal" fill="#1c1c1c" stroke="#1c1c1c" stroke-width="0.18"  textLength="41" lengthAdjust="spacingAndGlyphs">&#8211; Catheter</text>
<line x1="132.00" y1="238.30" x2="149.00" y2="238.30" stroke="#45b1d9" stroke-width="1.1"/>
<text x="153.00" y="241.60" font-size="9.3" text-anchor="start" font-weight="normal" fill="#1c1c1c" stroke="#1c1c1c" stroke-width="0.18"  textLength="59" lengthAdjust="spacingAndGlyphs">Control Plasma</text>
<line x1="132.00" y1="251.80" x2="149.00" y2="251.80" stroke="#b51f4e" stroke-width="1.1"/>
<text x="153.00" y="255.10" font-size="9.3" text-anchor="start" font-weight="normal" fill="#1c1c1c" stroke="#1c1c1c" stroke-width="0.18"  textLength="89" lengthAdjust="spacingAndGlyphs">HRG-Depleted Plasma</text>
<line x1="132.00" y1="265.20" x2="149.00" y2="265.20" stroke="#20406e" stroke-width="1.1"/>
<text x="153.00" y="268.50" font-size="9.3" text-anchor="start" font-weight="normal" fill="#1c1c1c" stroke="#1c1c1c" stroke-width="0.18"  textLength="83.5" lengthAdjust="spacingAndGlyphs">FXII-Depleted Plasma</text>
<text x="266.00" y="213.00" font-size="12.8" text-anchor="start" font-weight="bold" fill="#111" stroke="#111" stroke-width="0.55" >C</text>
<path d="M321.62,353.34 L321.95,353.24 L322.32,353.09 L322.80,352.91 L323.50,352.73 L324.48,352.54 L325.85,352.36 L327.60,352.21 L329.68,352.06 L332.06,351.92 L334.70,351.76 L337.57,351.59 L340.65,351.39 L344.05,351.18 L347.82,350.99 L351.82,350.77 L355.93,350.52 L360.00,350.19 L363.92,349.75 L367.83,349.14 L371.89,348.34 L375.92,347.47 L379.75,346.64 L383.20,345.95 L386.12,345.51 L388.40,345.38 L390.15,345.45 L391.53,345.68 L392.69,345.97 L393.80,346.27 L395.01,346.49 L396.29,346.71 L397.52,347.00 L398.69,347.29 L399.80,347.51 L400.83,347.59 L401.77,347.47 L402.59,347.17 L403.27,346.76 L403.88,346.21 L404.46,345.50 L405.08,344.62 L405.79,343.56 L406.59,342.33 L407.43,340.97 L408.30,339.44 L409.21,337.70 L410.13,335.71 L411.08,333.44 L412.08,330.63 L413.16,327.25 L414.27,323.62 L415.34,320.07 L416.34,316.93 L417.21,314.53 L417.93,312.96 L418.51,311.99 L419.02,311.43 L419.51,311.08 L420.02,310.76 L420.60,310.28 L421.26,309.66 L421.95,309.04 L422.67,308.45 L423.40,307.90 L424.12,307.42 L424.83,307.02 L425.51,306.68 L426.19,306.38 L426.86,306.15 L427.53,306.00 L428.19,305.95 L428.85,306.04 L429.49,306.28 L430.12,306.64 L430.75,307.10 L431.38,307.66 L432.01,308.29 L432.65,308.98 L433.31,309.75 L433.97,310.63 L434.64,311.59 L435.31,312.58 L435.99,313.57 L436.67,314.53 L437.35,315.44 L438.03,316.36 L438.71,317.27 L439.40,318.19 L440.13,319.12 L440.90,320.07 L441.76,321.10 L442.69,322.23 L443.66,323.36 L444.61,324.44 L445.47,325.38 L446.19,326.11 L446.74,326.55 L447.16,326.76 L447.50,326.83 L447.80,326.87 L448.12,326.97 L448.51,327.25 L448.98,327.73 L449.48,328.36 L450.00,329.05 L450.51,329.74 L451.01,330.36 L451.48,330.84 L451.88,331.08 L452.22,331.12 L452.55,331.10 L452.89,331.12 L453.30,331.32 L453.80,331.81 L454.43,332.69 L455.14,333.87 L455.92,335.22 L456.72,336.61 L457.50,337.91 L458.24,338.99 L458.96,339.89 L459.69,340.73 L460.40,341.48 L461.08,342.11 L461.71,342.59 L462.26,342.90 L462.71,342.95 L463.07,342.75 L463.37,342.39 L463.66,342.01 L463.99,341.71 L464.38,341.60 L464.83,341.69 L465.32,341.90 L465.83,342.19 L466.38,342.53 L466.95,342.89 L467.55,343.23 L468.16,343.55 L468.77,343.87 L469.41,344.21 L470.11,344.58 L470.89,345.01 L471.78,345.51 L472.85,346.19 L474.10,347.06 L475.43,347.98 L476.75,348.82 L477.96,349.46 L478.97,349.75 L479.75,349.56 L480.36,348.96 L480.86,348.14 L481.32,347.33 L481.80,346.71 L482.36,346.49 L482.98,346.79 L483.63,347.45 L484.30,348.31 L484.98,349.20 L485.67,349.95 L486.37,350.41 L487.09,350.52 L487.81,350.43 L488.55,350.20 L489.30,349.91 L490.06,349.63 L490.82,349.43 L491.56,349.24 L492.29,348.98 L493.02,348.74 L493.78,348.57 L494.59,348.56 L495.47,348.78 L496.44,349.36 L497.50,350.30 L498.61,351.39 L499.73,352.44 L500.81,353.26 L501.81,353.67 L502.76,353.53 L503.68,352.96 L504.56,352.16 L505.40,351.34 L506.18,350.69 L506.89,350.41 L507.54,350.57 L508.14,351.04 L508.69,351.67 L509.16,352.35 L509.55,352.95 L509.85,353.34" fill="none" stroke="#20406e" stroke-width="1.35" stroke-linejoin="round"/>
<path d="M321.62,353.67 L322.05,353.59 L322.63,353.49 L323.33,353.36 L324.12,353.23 L324.97,353.11 L325.85,353.02 L326.76,352.94 L327.73,352.87 L328.75,352.81 L329.84,352.76 L330.99,352.72 L332.19,352.69 L333.45,352.70 L334.77,352.75 L336.16,352.81 L337.60,352.85 L339.09,352.82 L340.65,352.69 L342.28,352.46 L343.99,352.16 L345.75,351.79 L347.56,351.37 L349.39,350.91 L351.23,350.41 L353.11,349.78 L355.07,349.02 L357.05,348.21 L359.01,347.45 L360.89,346.84 L362.65,346.49 L364.31,346.65 L365.92,347.30 L367.46,348.10 L368.89,348.73 L370.19,348.84 L371.32,348.12 L372.24,346.51 L372.97,344.25 L373.56,341.48 L374.08,338.34 L374.58,334.96 L375.12,331.49 L375.69,327.75 L376.22,323.62 L376.74,319.25 L377.25,314.81 L377.76,310.47 L378.30,306.37 L378.83,302.39 L379.36,298.36 L379.90,294.42 L380.45,290.71 L381.04,287.36 L381.68,284.51 L382.38,282.11 L383.14,280.02 L383.93,278.30 L384.74,276.98 L385.54,276.10 L386.33,275.71 L387.11,275.91 L387.90,276.69 L388.69,277.91 L389.47,279.44 L390.24,281.14 L390.99,282.88 L391.70,284.75 L392.39,286.88 L393.06,289.18 L393.74,291.57 L394.46,293.96 L395.22,296.26 L396.08,298.58 L397.03,301.03 L398.01,303.47 L398.95,305.79 L399.81,307.89 L400.50,309.63 L401.01,310.94 L401.36,311.89 L401.61,312.60 L401.84,313.21 L402.08,313.85 L402.41,314.66 L402.82,315.60 L403.26,316.60 L403.73,317.62 L404.21,318.65 L404.69,319.69 L405.16,320.72 L405.59,321.74 L406.00,322.77 L406.41,323.79 L406.85,324.83 L407.34,325.87 L407.91,326.92 L408.56,328.02 L409.26,329.16 L410.02,330.30 L410.83,331.43 L411.68,332.49 L412.56,333.44 L413.51,334.27 L414.55,334.98 L415.63,335.64 L416.70,336.27 L417.74,336.94 L418.69,337.69 L419.55,338.54 L420.35,339.47 L421.11,340.43 L421.85,341.38 L422.59,342.27 L423.35,343.07 L424.15,343.84 L424.99,344.64 L425.83,345.38 L426.64,345.99 L427.37,346.39 L428.00,346.49 L428.48,346.12 L428.83,345.28 L429.11,344.24 L429.38,343.22 L429.69,342.48 L430.11,342.25 L430.65,342.69 L431.24,343.63 L431.89,344.84 L432.56,346.09 L433.24,347.16 L433.92,347.80 L434.60,347.92 L435.31,347.68 L436.02,347.25 L436.74,346.79 L437.45,346.49 L438.15,346.49 L438.83,346.88 L439.51,347.53 L440.17,348.33 L440.84,349.15 L441.50,349.88 L442.17,350.41 L442.84,350.74 L443.52,350.97 L444.19,351.12 L444.86,351.18 L445.53,351.16 L446.19,351.06 L446.82,350.78 L447.43,350.31 L448.04,349.75 L448.66,349.24 L449.30,348.87 L450.00,348.78 L450.73,349.06 L451.48,349.63 L452.27,350.37 L453.09,351.11 L453.95,351.71 L454.86,352.04 L455.83,352.01 L456.87,351.74 L457.94,351.32 L459.04,350.89 L460.13,350.55 L461.21,350.41 L462.21,350.50 L463.16,350.75 L464.11,351.08 L465.12,351.45 L466.25,351.79 L467.55,352.04 L469.07,352.22 L470.76,352.38 L472.57,352.51 L474.44,352.61 L476.31,352.67 L478.12,352.69 L479.89,352.63 L481.65,352.50 L483.41,352.32 L485.18,352.16 L486.94,352.05 L488.70,352.04 L490.46,352.16 L492.23,352.40 L493.99,352.69 L495.75,352.98 L497.51,353.22 L499.27,353.34 L501.16,353.34 L503.19,353.25 L505.22,353.10 L507.11,352.93 L508.70,352.78 L509.85,352.69" fill="none" stroke="#45b1d9" stroke-width="1.35" stroke-linejoin="round"/>
<path d="M321.62,354.32 L322.55,354.43 L323.84,354.60 L325.37,354.79 L327.00,354.95 L328.62,355.03 L330.07,354.97 L331.41,354.88 L332.73,354.79 L334.03,354.63 L335.29,354.29 L336.52,353.67 L337.69,352.69 L338.83,351.35 L339.94,349.73 L341.02,347.84 L342.04,345.68 L342.98,343.27 L343.82,340.62 L344.56,337.82 L345.19,334.89 L345.74,331.71 L346.24,328.15 L346.72,324.10 L347.21,319.42 L347.69,313.82 L348.14,307.34 L348.57,300.36 L348.98,293.26 L349.37,286.44 L349.74,280.27 L350.09,274.57 L350.41,268.99 L350.71,263.68 L351.01,258.79 L351.31,254.49 L351.65,250.92 L351.98,248.04 L352.30,245.72 L352.63,243.98 L353.00,242.85 L353.43,242.32 L353.97,242.43 L354.65,243.34 L355.43,245.04 L356.29,247.37 L357.17,250.12 L358.04,253.10 L358.84,256.14 L359.57,259.35 L360.26,262.91 L360.93,266.72 L361.60,270.63 L362.31,274.54 L363.07,278.32 L363.91,282.02 L364.83,285.77 L365.78,289.51 L366.71,293.19 L367.59,296.76 L368.36,300.17 L369.00,303.52 L369.54,306.87 L370.02,310.10 L370.49,313.12 L370.98,315.83 L371.53,318.11 L372.13,319.82 L372.74,321.00 L373.37,321.86 L374.04,322.62 L374.76,323.47 L375.55,324.64 L376.44,326.24 L377.44,328.15 L378.50,330.16 L379.55,332.07 L380.56,333.66 L381.47,334.75 L382.27,335.13 L383.00,334.92 L383.69,334.40 L384.35,333.86 L385.01,333.55 L385.70,333.77 L386.39,334.63 L387.08,335.94 L387.76,337.49 L388.46,339.09 L389.18,340.53 L389.93,341.60 L390.72,342.33 L391.55,342.88 L392.40,343.26 L393.27,343.51 L394.14,343.65 L395.01,343.69 L395.90,343.47 L396.82,342.95 L397.75,342.31 L398.66,341.74 L399.52,341.44 L400.29,341.60 L400.95,342.40 L401.51,343.74 L402.02,345.34 L402.53,346.95 L403.06,348.29 L403.68,349.10 L404.37,349.26 L405.10,348.93 L405.87,348.35 L406.67,347.71 L407.49,347.24 L408.33,347.15 L409.21,347.55 L410.16,348.30 L411.12,349.22 L412.07,350.12 L412.99,350.79 L413.83,351.06 L414.57,350.76 L415.23,350.02 L415.85,349.06 L416.47,348.11 L417.12,347.40 L417.85,347.15 L418.65,347.50 L419.51,348.30 L420.40,349.35 L421.31,350.41 L422.23,351.27 L423.13,351.71 L424.04,351.62 L424.96,351.15 L425.88,350.48 L426.81,349.79 L427.73,349.27 L428.63,349.10 L429.53,349.38 L430.40,349.97 L431.28,350.73 L432.15,351.50 L433.03,352.14 L433.92,352.49 L434.81,352.48 L435.69,352.19 L436.58,351.78 L437.49,351.36 L438.43,351.07 L439.42,351.06 L440.52,351.44 L441.74,352.12 L442.99,352.94 L444.20,353.72 L445.29,354.29 L446.19,354.48 L446.85,354.14 L447.34,353.36 L447.71,352.37 L448.02,351.40 L448.34,350.67 L448.73,350.41 L449.16,350.77 L449.58,351.63 L450.01,352.72 L450.46,353.81 L450.94,354.64 L451.48,354.97 L452.09,354.64 L452.77,353.81 L453.49,352.73 L454.20,351.64 L454.88,350.78 L455.49,350.41 L456.01,350.66 L456.46,351.37 L456.87,352.32 L457.28,353.28 L457.73,354.02 L458.24,354.32 L458.86,354.03 L459.54,353.31 L460.25,352.36 L460.97,351.42 L461.65,350.70 L462.26,350.41 L462.77,350.69 L463.20,351.41 L463.60,352.34 L464.00,353.28 L464.46,354.01 L465.01,354.32 L465.68,354.08 L466.44,353.43 L467.25,352.57 L468.07,351.70 L468.89,351.02 L469.67,350.73 L470.37,350.96 L471.03,351.55 L471.67,352.34 L472.34,353.14 L473.07,353.75 L473.89,354.00 L474.81,353.76 L475.77,353.17 L476.80,352.40 L477.89,351.63 L479.04,351.01 L480.24,350.73 L481.53,350.88 L482.90,351.35 L484.34,351.98 L485.80,352.62 L487.27,353.12 L488.70,353.34 L490.13,353.19 L491.60,352.76 L493.06,352.20 L494.50,351.64 L495.87,351.21 L497.16,351.06 L498.34,351.26 L499.43,351.72 L500.46,352.32 L501.47,352.93 L502.47,353.42 L503.50,353.67 L504.64,353.62 L505.86,353.38 L507.07,353.02 L508.21,352.62 L509.16,352.26 L509.85,352.04" fill="none" stroke="#b51f4e" stroke-width="1.35" stroke-linejoin="round"/>
<line x1="319.50" y1="221.50" x2="319.50" y2="359.10" stroke="#161616" stroke-width="1.3"/>
<line x1="318.90" y1="358.50" x2="512.40" y2="358.50" stroke="#161616" stroke-width="1.3"/>
<line x1="316.50" y1="355.30" x2="319.50" y2="355.30" stroke="#1e1e1e" stroke-width="0.9"/>
<text x="312.70" y="358.70" font-size="9.6" text-anchor="end" font-weight="normal" fill="#1c1c1c" stroke="#1c1c1c" stroke-width="0.18" >0</text>
<line x1="316.50" y1="322.68" x2="319.50" y2="322.68" stroke="#1e1e1e" stroke-width="0.9"/>
<text x="312.70" y="326.08" font-size="9.6" text-anchor="end" font-weight="normal" fill="#1c1c1c" stroke="#1c1c1c" stroke-width="0.18" >100</text>
<line x1="316.50" y1="290.06" x2="319.50" y2="290.06" stroke="#1e1e1e" stroke-width="0.9"/>
<text x="312.70" y="293.46" font-size="9.6" text-anchor="end" font-weight="normal" fill="#1c1c1c" stroke="#1c1c1c" stroke-width="0.18" >200</text>
<line x1="316.50" y1="257.44" x2="319.50" y2="257.44" stroke="#1e1e1e" stroke-width="0.9"/>
<text x="312.70" y="260.84" font-size="9.6" text-anchor="end" font-weight="normal" fill="#1c1c1c" stroke="#1c1c1c" stroke-width="0.18" >300</text>
<line x1="316.50" y1="224.82" x2="319.50" y2="224.82" stroke="#1e1e1e" stroke-width="0.9"/>
<text x="312.70" y="228.22" font-size="9.6" text-anchor="end" font-weight="normal" fill="#1c1c1c" stroke="#1c1c1c" stroke-width="0.18" >400</text>
<line x1="319.50" y1="358.50" x2="319.50" y2="361.50" stroke="#1e1e1e" stroke-width="0.9"/>
<text x="319.50" y="373.80" font-size="9.3" text-anchor="middle" font-weight="normal" fill="#1c1c1c" stroke="#1c1c1c" stroke-width="0.18" >0</text>
<line x1="361.80" y1="358.50" x2="361.80" y2="361.50" stroke="#1e1e1e" stroke-width="0.9"/>
<text x="361.80" y="373.80" font-size="9.3" text-anchor="middle" font-weight="normal" fill="#1c1c1c" stroke="#1c1c1c" stroke-width="0.18" >20</text>
<line x1="404.10" y1="358.50" x2="404.10" y2="361.50" stroke="#1e1e1e" stroke-width="0.9"/>
<text x="404.10" y="373.80" font-size="9.3" text-anchor="middle" font-weight="normal" fill="#1c1c1c" stroke="#1c1c1c" stroke-width="0.18" >40</text>
<line x1="446.40" y1="358.50" x2="446.40" y2="361.50" stroke="#1e1e1e" stroke-width="0.9"/>
<text x="446.40" y="373.80" font-size="9.3" text-anchor="middle" font-weight="normal" fill="#1c1c1c" stroke="#1c1c1c" stroke-width="0.18" >60</text>
<line x1="488.70" y1="358.50" x2="488.70" y2="361.50" stroke="#1e1e1e" stroke-width="0.9"/>
<text x="488.70" y="373.80" font-size="9.3" text-anchor="middle" font-weight="normal" fill="#1c1c1c" stroke="#1c1c1c" stroke-width="0.18" >80</text>
<text x="0" y="0" font-size="10.6" text-anchor="middle" fill="#1c1c1c" stroke="#1c1c1c" stroke-width="0.1" textLength="50" lengthAdjust="spacingAndGlyphs" transform="translate(290.60,292.90) rotate(-90)">Thrombin (nM)</text>
<text x="415.00" y="388.00" font-size="10.4" text-anchor="middle" font-weight="normal" fill="#1c1c1c" stroke="#1c1c1c" stroke-width="0.18" textLength="36" lengthAdjust="spacingAndGlyphs">Time (min)</text>
<text x="322.00" y="235.50" font-size="9.4" text-anchor="start" font-weight="normal" fill="#1c1c1c" stroke="#1c1c1c" stroke-width="0.18"  textLength="41" lengthAdjust="spacingAndGlyphs">+ Catheter</text>
<line x1="395.50" y1="236.60" x2="412.50" y2="236.60" stroke="#45b1d9" stroke-width="1.1"/>
<text x="416.50" y="239.90" font-size="9.3" text-anchor="start" font-weight="normal" fill="#1c1c1c" stroke="#1c1c1c" stroke-width="0.18"  textLength="59" lengthAdjust="spacingAndGlyphs">Control Plasma</text>
<line x1="395.50" y1="250.10" x2="412.50" y2="250.10" stroke="#b51f4e" stroke-width="1.1"/>
<text x="416.50" y="253.40" font-size="9.3" text-anchor="start" font-weight="normal" fill="#1c1c1c" stroke="#1c1c1c" stroke-width="0.18"  textLength="89" lengthAdjust="spacingAndGlyphs">HRG-Depleted Plasma</text>
<line x1="395.50" y1="263.60" x2="412.50" y2="263.60" stroke="#20406e" stroke-width="1.1"/>
<text x="416.50" y="266.90" font-size="9.3" text-anchor="start" font-weight="normal" fill="#1c1c1c" stroke="#1c1c1c" stroke-width="0.18"  textLength="83.5" lengthAdjust="spacingAndGlyphs">FXII-Depleted Plasma</text>
<rect x="0" y="0" width="520" height="1.1" fill="#505050"/><rect x="0" y="0" width="1.2" height="582" fill="#505050"/><rect x="519" y="0" width="1" height="582" fill="#555"/><rect x="0" y="581" width="520" height="1" fill="#555"/>
</svg></div></body></html>
